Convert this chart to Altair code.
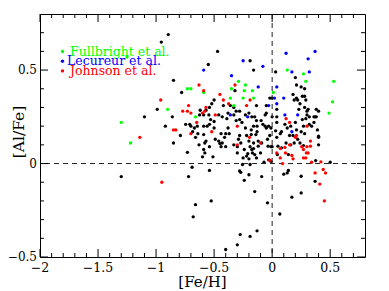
import altair as alt
import pandas as pd

# ---------------- data ----------------
black_fe = [-1.10, -0.99, -0.92, -0.85, -0.86, -0.955, -0.895, -0.85, -0.78, -0.745, -0.71, -0.79,
            -1.30, -0.72, -0.73, -0.69, -0.66, -0.68,
            -0.47, -0.55, -0.19, -0.16, 0.03, 0.20, 0.21, 0.25, 0.28, 0.26, 0.28, 0.18, 0.21, 0.22, 0.19,
            0.24, 0.29, 0.28, 0.31, 0.23, 0.30, 0.26, 0.29, 0.38, 0.36, 0.38, 0.32, 0.27, 0.20, 0.16, 0.21,
            0.25, 0.28, 0.22, 0.19, 0.16, 0.40, 0.40,
            0.00, -0.02, -0.05, 0.04, 0.00, -0.05, -0.06, -0.01, -0.06, -0.03, -0.08, -0.13, -0.13, -0.16,
            -0.18, -0.18, -0.14, -0.12, -0.09, -0.20, -0.19, -0.16, -0.23, -0.22, -0.28, -0.29, -0.27, -0.30,
            -0.33, -0.38, -0.37, -0.40, -0.44, -0.41, -0.43, -0.44, -0.40, -0.46, -0.49, -0.57, -0.58, -0.54,
            -0.63, -0.50, -0.54, -0.56, -0.59, -0.645, -0.67, -0.70, -0.53, -0.50, -0.46, -0.43, -0.39, -0.33,
            -0.31, -0.28, -0.31, -0.28, -0.26, -0.33, -0.32, -0.50, -0.52, -0.54, -0.62, -0.57, -0.59, -0.625,
            -0.545, -0.59, -0.64, -0.66, -0.685, -0.135, -0.095, -0.02, -0.01, 0.00, 0.04, 0.04, 0.03, 0.08,
            0.07, 0.11, 0.13, 0.15, 0.18, 0.04, 0.12, -0.15, -0.20, -0.175, -0.135, -0.23, -0.05, -0.04,
            -0.36, -0.42, -0.38,
            -0.59, -0.58, -0.51, -0.60, -0.45, -0.30, -0.24, -0.25, -0.255, -0.21, -0.22, -0.20, -0.19,
            -0.16, -0.175, -0.17, -0.15, -0.135, -0.12, -0.10, -0.07, -0.035, -0.03, -0.01, 0.045, 0.05,
            0.08, 0.14, 0.24, 0.27,
            -0.54, -0.28, -0.27, -0.24, -0.20, -0.09, -0.15, -0.525, -0.04, 0.066, -0.275, -0.30, -0.19,
            -0.13, -0.40, 0.10, 0.14, 0.13, 0.25, 0.17, 0.25, 0.37, 0.375, 0.50,
            0.32, 0.37, 0.36, 0.34, 0.39, 0.40, 0.30, 0.40]
black_al = [0.25, 0.29, 0.20, 0.11, 0.25, 0.65, 0.69, 0.445, 0.38, 0.21, 0.21, 0.15,
            -0.07, -0.07, 0.06, -0.02, -0.22, -0.285,
            0.60, 0.53, 0.55, 0.50, 0.49, 0.46, 0.42, 0.41, 0.40, 0.36, 0.36, 0.37, 0.35, 0.34, 0.34,
            0.32, 0.34, 0.30, 0.29, 0.29, 0.26, 0.235, 0.24, 0.29, 0.25, 0.25, 0.21, 0.20, 0.22, 0.20, 0.18,
            0.17, 0.16, 0.13, 0.11, 0.10, 0.14, 0.10,
            0.35, 0.35, 0.31, 0.29, 0.25, 0.27, 0.26, 0.19, 0.20, 0.20, 0.21, 0.20, 0.17, 0.20,
            0.18, 0.155, 0.155, 0.12, 0.11, 0.12, 0.09, 0.08, 0.19, 0.15, 0.15, 0.13, 0.11, 0.09,
            0.10, 0.19, 0.16, 0.16, 0.16, 0.14, 0.11, 0.09, 0.09, 0.12, 0.13, 0.12, 0.11, 0.09,
            0.10, 0.19, 0.21, 0.20, 0.20, 0.20, 0.19, 0.20, 0.235, 0.225, 0.26, 0.25, 0.24, 0.26,
            0.28, 0.28, 0.23, 0.235, 0.22, 0.30, 0.39, 0.34, 0.32, 0.30, 0.285, 0.285, 0.26, 0.26,
            0.26, 0.155, 0.16, 0.14, 0.17, 0.31, 0.23, 0.15, 0.09, 0.09, 0.25, 0.22, 0.175, 0.17,
            0.16, 0.21, 0.19, 0.15, 0.15, 0.14, 0.11, 0.25, 0.27, 0.25, 0.23, 0.26, 0.19, 0.13,
            0.31, 0.31, 0.27,
            0.075, 0.057, 0.036, 0.036, 0.107, 0.057, 0.075, 0.03, -0.005, 0.053, 0.04, 0.025, -0.005,
            0.11, 0.075, 0.057, 0.048, 0.03, 0.093, 0.057, 0.007, 0.093, 0.02, 0.012, 0.048, 0.093,
            0.084, 0.048, 0.11, 0.096,
            -0.037, -0.04, -0.047, -0.09, -0.06, -0.07, -0.15, -0.20, -0.21, -0.27, -0.38, -0.435, -0.39,
            -0.36, -0.46, -0.057, -0.037, -0.05, -0.068, -0.18, -0.157, -0.095, 0.016, 0.007,
            0.25, 0.25, 0.22, 0.20, 0.18, 0.146, 0.28, 0.28]

green_fe = [-1.30, -1.22, -1.25, -0.90, -0.73, -0.70, -0.66, -0.59, -0.29, -0.23, -0.17, -0.24,
            -0.35, -0.36, -0.25, -0.16, -0.33, 0.13, 0.27, 0.29, 0.01, 0.53, 0.52, 0.49]
green_al = [0.22, 0.11, 0.57, 0.29, 0.40, 0.40, 0.25, 0.38, 0.44, 0.42, 0.39, 0.39,
            0.40, 0.35, 0.35, 0.35, 0.31, 0.50, 0.48, 0.44, 0.38, 0.44, 0.33, 0.27]

blue_fe = [-0.59, -0.35, -0.25, -0.08, -0.12, 0.12, 0.17, 0.37, 0.31, 0.32, 0.04, 0.02, -0.03,
           0.10, 0.04, 0.11, -0.21, -0.36, 0.22, 0.17]
blue_al = [0.50, 0.47, 0.55, 0.52, 0.41, 0.59, 0.49, 0.60, 0.56, 0.49, 0.41, 0.35, 0.31,
           0.35, 0.32, 0.26, 0.25, 0.26, 0.26, 0.17]

red_fe = [-0.96, -1.14, -0.63, -0.77, -0.73, -0.72, -0.70, -0.85, -0.83, -0.70, -0.95,
          -0.59, -0.45, -0.42, -0.375, -0.32, -0.19, -0.22, -0.57, -0.58, -0.60, -0.65, -0.49, -0.52,
          -0.30, -0.195, -0.30, -0.10, 0.12, 0.15, 0.30, 0.20, 0.21, 0.15, 0.30, 0.255, 0.33, 0.07,
          -0.02, 0.04, 0.07, 0.09, 0.115, 0.11, 0.17, 0.18, 0.27, 0.33, 0.295, 0.31, 0.27, 0.29,
          0.34, 0.42, 0.44, 0.46, 0.37, 0.41, 0.45]
red_al = [0.34, 0.14, 0.42, 0.28, 0.28, 0.31, 0.27, 0.18, 0.18, 0.16, -0.10,
          0.39, 0.37, 0.34, 0.32, 0.42, 0.34, 0.31, 0.30, 0.28, 0.27, 0.22, 0.26, 0.17,
          0.20, 0.14, 0.10, 0.11, 0.24, 0.22, 0.20, 0.14, 0.15, 0.10, 0.09, 0.09, 0.12, 0.08,
          0.018, 0.057, 0.03, 0.00, 0.057, 0.086, 0.043, 0.025, 0.075, 0.093, 0.057, 0.057, 0.03, 0.03,
          0.007, 0.009, -0.032, -0.05, -0.05, -0.11, -0.20]

legend_names = ["Fullbright et al.", "Lecureur et al.", "Johnson et al."]
legend_colors = ["#00ff00", "#0000ff", "#ff0000"]
x_title = "[Fe/H]"
y_title = "[Al/Fe]"

x_major = [-2, -1.5, -1, -0.5, 0, 0.5]
x_minor = [-1.9, -1.8, -1.7, -1.6, -1.4, -1.3, -1.2, -1.1, -0.9, -0.8, -0.7, -0.6,
           -0.4, -0.3, -0.2, -0.1, 0.1, 0.2, 0.3, 0.4, 0.6, 0.7]
y_major = [-0.5, 0, 0.5]
y_minor = [-0.4, -0.3, -0.2, -0.1, 0.1, 0.2, 0.3, 0.4, 0.6, 0.7]

# ---------------- chart ----------------
W, H = 325, 243
FONT = "DejaVu Serif"
xs = alt.Scale(domain=[-2, 0.8], nice=False, zero=False)
ys = alt.Scale(domain=[-0.5, 0.8], nice=False, zero=False)


def points(fe, al, color):
    df = pd.DataFrame({"Fe": fe, "Al": al})
    return alt.Chart(df).mark_circle(size=11, color=color, opacity=1).encode(
        x=alt.X("Fe:Q", scale=xs, axis=None),
        y=alt.Y("Al:Q", scale=ys, axis=None),
    )


def xticks(vals, y0, y1):
    return alt.Chart(pd.DataFrame({"Fe": vals})).mark_rule(color="black", strokeWidth=1).encode(
        x=alt.X("Fe:Q", scale=xs, axis=None), y=alt.value(y0), y2=alt.value(y1))


def yticks(vals, x0, x1):
    return alt.Chart(pd.DataFrame({"Al": vals})).mark_rule(color="black", strokeWidth=1).encode(
        y=alt.Y("Al:Q", scale=ys, axis=None), x=alt.value(x0), x2=alt.value(x1))


MAJ, MIN = 8, 4
ticks = [
    xticks(x_major, H, H - MAJ), xticks(x_minor, H, H - MIN),
    xticks(x_major, 0, MAJ), xticks(x_minor, 0, MIN),
    yticks(y_major, 0, MAJ), yticks(y_minor, 0, MIN),
    yticks(y_major, W, W - MAJ), yticks(y_minor, W, W - MIN),
]

# tick labels drawn through the scales
x_labels = alt.Chart(pd.DataFrame({"Fe": x_major})).mark_text(
    font=FONT, fontSize=12.5, color="black", align="center", baseline="top").encode(
    x=alt.X("Fe:Q", scale=xs, axis=None), y=alt.value(H + 5),
    text=alt.Text("Fe:Q", format="~g"))
y_labels = alt.Chart(pd.DataFrame({"Al": y_major})).mark_text(
    font=FONT, fontSize=12, color="black", align="right", baseline="middle").encode(
    y=alt.Y("Al:Q", scale=ys, axis=None), x=alt.value(-3),
    text=alt.Text("Al:Q", format="~g"))

vline = alt.Chart(pd.DataFrame({"Fe": [0]})).mark_rule(
    color="#222", strokeWidth=1, strokeDash=[5, 4]).encode(x=alt.X("Fe:Q", scale=xs, axis=None))
hline = alt.Chart(pd.DataFrame({"Al": [0]})).mark_rule(
    color="#222", strokeWidth=1, strokeDash=[5, 4]).encode(y=alt.Y("Al:Q", scale=ys, axis=None))

titles = [
    alt.Chart(pd.DataFrame({"t": [x_title]})).mark_text(
        font=FONT, fontSize=15, color="black", align="center", baseline="alphabetic").encode(
        x=alt.value(W / 2), y=alt.value(H + 30), text="t:N"),
    alt.Chart(pd.DataFrame({"t": [y_title]})).mark_text(
        font=FONT, fontSize=15.5, color="black", align="center", baseline="middle", angle=270).encode(
        x=alt.value(-21), y=alt.value(118), text="t:N"),
]

legend_layers = []
leg_y = [37.5, 47.2, 56.9]
leg_tx = [30, 27, 30]
for name, col, yy, tx in zip(legend_names, legend_colors, leg_y, leg_tx):
    d = pd.DataFrame({"label": [name]})
    legend_layers.append(alt.Chart(d).mark_circle(size=11, color=col, opacity=1).encode(
        x=alt.value(22.5), y=alt.value(yy)))
    legend_layers.append(alt.Chart(d).mark_text(
        color=col, font=FONT, fontSize=12.5, align="left", baseline="middle").encode(
        x=alt.value(tx), y=alt.value(yy), text="label:N"))

chart = alt.layer(
    points(black_fe, black_al, "black"),
    vline, hline,
    *ticks,
    points(green_fe, green_al, legend_colors[0]),
    points(blue_fe, blue_al, legend_colors[1]),
    points(red_fe, red_al, legend_colors[2]),
    x_labels, y_labels,
    *legend_layers,
    *titles,
).properties(
    width=W, height=H,
    autosize=alt.AutoSizeParams(type="none"),
    padding={"left": 32, "top": 6, "right": 16, "bottom": 40},
    background="white",
).configure_view(stroke="black", strokeWidth=1)

chart.save("out.html", embed_options={"renderer": "svg", "actions": False})
